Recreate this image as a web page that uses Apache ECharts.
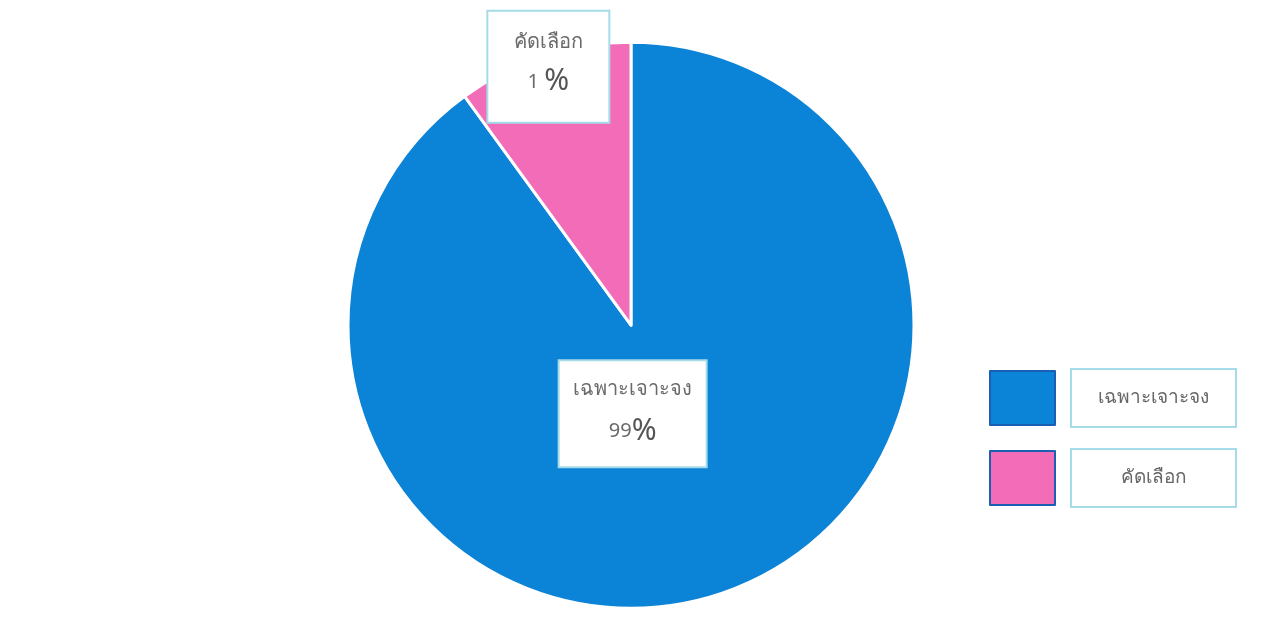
<!DOCTYPE html>
<html>
<head>
<meta charset="utf-8">
<script src="https://cdn.jsdelivr.net/npm/echarts@6/dist/echarts.min.js"></script>
<style>
html,body{margin:0;padding:0;background:#fff;}
#c{width:1262px;height:634px;}
</style>
</head>
<body>
<div id="c"></div>
<script>
const categories = ['เฉพาะเจาะจง', 'คัดเลือก'];
const sliceValues = [90, 10];
// Percent texts as printed on the reference labels
const percentNumbers = ['99', '1 '];
const colors = ['#0b83d7', '#f26cb8'];

const FONT = '"Noto Sans", "DejaVu Sans", sans-serif';

const labelCfg = [
  { width: 146, lh: 42, padding: [7, 0, 14, 0], offset: [-43, -49] },
  { width: 120, lh: 40, padding: [10, 0, 20, 0], offset: [-38, -121] }
];

const chart = echarts.init(document.getElementById('c'));
chart.setOption({
  backgroundColor: '#ffffff',
  animation: false,
  color: colors,
  legend: {
    orient: 'vertical',
    left: 989,
    top: 368,
    padding: 0,
    icon: 'rect',
    itemWidth: 65,
    itemHeight: 54,
    itemGap: 20,
    selectedMode: false,
    itemStyle: { borderColor: '#1a5fb4', borderWidth: 2 },
    formatter: function (name) { return '{g|}{b|' + name + '}'; },
    textStyle: {
      fontFamily: FONT,
      fontSize: 19,
      color: '#666666',
      rich: {
        g: { width: 12 },
        b: {
          fontFamily: FONT,
          fontSize: 19,
          color: '#666666',
          width: 163,
          height: 56,
          lineHeight: 56,
          align: 'center',
          backgroundColor: '#ffffff',
          borderColor: '#a6dbe8',
          borderWidth: 2
        }
      }
    },
    data: categories
  },
  series: [{
    type: 'pie',
    center: ['50%', '51.3%'],
    radius: 283,
    startAngle: 90,
    clockwise: true,
    itemStyle: { borderColor: '#ffffff', borderWidth: 3 },
    emphasis: { disabled: true },
    labelLine: { show: false },
    data: categories.map((name, i) => ({
      name: name,
      value: sliceValues[i],
      label: {
        show: true,
        position: 'inside',
        offset: labelCfg[i].offset,
        width: labelCfg[i].width,
        padding: labelCfg[i].padding,
        align: 'center',
        verticalAlign: 'middle',
        backgroundColor: '#ffffff',
        borderColor: '#a6dbe8',
        borderWidth: 2,
        formatter: '{n|' + name + '}\n{v|' + percentNumbers[i] + '}{p|%}',
        rich: {
          n: { fontFamily: FONT, fontSize: 20, color: '#6a6a6a', lineHeight: labelCfg[i].lh, align: 'center' },
          v: { fontFamily: FONT, fontSize: 20, color: '#6a6a6a', lineHeight: labelCfg[i].lh, align: 'center' },
          p: { fontFamily: FONT, fontSize: 30, color: '#555555', lineHeight: labelCfg[i].lh, align: 'center' }
        }
      }
    }))
  }]
});
</script>
</body>
</html>
